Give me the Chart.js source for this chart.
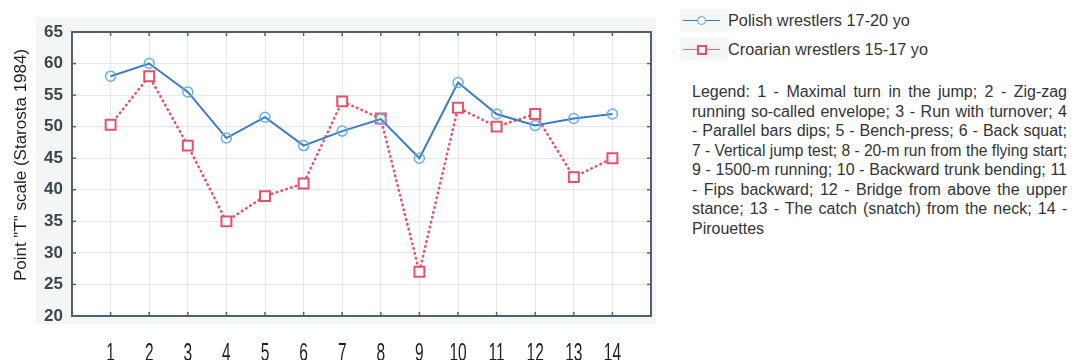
<!DOCTYPE html>
<html>
<head>
<meta charset="utf-8">
<script src="https://cdn.jsdelivr.net/npm/chart.js@4/dist/chart.umd.min.js"></script>
<style>
    body { margin: 0; background: #fff; width: 1075px; height: 360px; position: relative; overflow: hidden; }
    #wrap { position: absolute; left: 0; top: 0; width: 665px; height: 360px; }
    #legend { position: absolute; left: 680px; top: 6px; width: 387px; font-family: "Liberation Sans", Arial, sans-serif; color: #333; }
    .item { height: 29px; display: flex; align-items: center; font-size: 16.3px; }
    .key { position: relative; width: 48px; height: 23px; background: #f5f6f6; }
    .key .ln { position: absolute; left: 3px; right: 8px; top: 11px; height: 0; }
    .key .mk { position: absolute; box-sizing: border-box; }
    #notes { margin-top: 18px; margin-left: 12px; width: 375px; font-size: 16px; line-height: 19.5px; }
    #notes div { white-space: nowrap; text-align: justify; text-align-last: justify; transform-origin: 0 50%; }
    #notes div.last { text-align-last: left; }
</style>
</head>
<body>
<div id="wrap"><canvas id="lineChart"></canvas></div>
<div id="legend">
    <div class="item"><span class="key"><span class="ln" style="border-top:1.5px solid #3b7bbf"></span><span class="mk" style="left:17px;top:7px;width:9px;height:9px;border:1.5px solid #5a9fdc;border-radius:50%;background:#fff"></span></span><span id="lab0"></span></div>
    <div class="item"><span class="key"><span class="ln" style="border-top:1.5px solid #ee6b80"></span><span class="mk" style="left:17px;top:7px;width:10px;height:10px;border:2px solid #e8506a;background:#fff"></span></span><span id="lab1"></span></div>
    <div id="notes"></div>
</div>
<script>
const tests = [1, 2, 3, 4, 5, 6, 7, 8, 9, 10, 11, 12, 13, 14];
const polish = [58, 60, 55.5, 48.2, 51.5, 47, 49.3, 51.2, 45, 57, 52, 50.2, 51.3, 52];
const croatian = [50.3, 58, 47, 35, 39, 41, 54, 51.3, 27, 53, 50, 52, 42, 45];
const seriesNames = ["Polish wrestlers 17-20 yo", "Croarian wrestlers 15-17 yo"];
const yTicks = [20, 25, 30, 35, 40, 45, 50, 55, 60, 65];
const yTitle = 'Point "T" scale (Starosta 1984)';
const noteLines = [
    "Legend: 1 - Maximal turn in the jump; 2 - Zig-zag",
    "running so-called envelope; 3 - Run with turnover; 4",
    "- Parallel bars dips; 5 - Bench-press; 6 - Back squat;",
    "7 - Vertical jump test; 8 - 20-m run from the flying start;",
    "9 - 1500-m running; 10 - Backward trunk bending; 11",
    "- Fips backward; 12 - Bridge from above the upper",
    "stance; 13 - The catch (snatch) from the neck; 14 -",
    "Pirouettes",
];

document.getElementById("lab0").textContent = seriesNames[0];
document.getElementById("lab1").textContent = seriesNames[1];

// notes paragraph, one div per line so the breaks match; squeeze lines that are too wide
const notes = document.getElementById("notes");
noteLines.forEach((t, i) => {
    const d = document.createElement("div");
    d.textContent = t;
    if (i === noteLines.length - 1) d.className = "last";
    notes.appendChild(d);
    const r = document.createRange();
    r.selectNodeContents(d);
    const w = r.getBoundingClientRect().width;
    if (w > 375) {
        d.style.width = w + "px";
        d.style.transform = "scaleX(" + (375 / w) + ")";
    }
});

const sans = '"Liberation Sans", Arial, sans-serif';

// light panel behind the plot, frame, inner ticks, and the narrow axis texts
const framePlugin = {
    id: "frame",
    beforeDraw(chart) {
        const c = chart.ctx;
        const a = chart.chartArea;
        c.save();
        c.fillStyle = "#f4f6f6";
        c.fillRect(36, 17, 620, 307);
        c.fillStyle = "#fff";
        c.fillRect(a.left, a.top, a.right - a.left, a.bottom - a.top);
        c.restore();
    },
    afterDatasetsDraw(chart) {
        const c = chart.ctx;
        const a = chart.chartArea;
        const xs = chart.scales.x, ys = chart.scales.y;
        c.save();
        c.strokeStyle = "#4f6070";
        c.lineWidth = 2;
        c.strokeRect(a.left, a.top, a.right - a.left, a.bottom - a.top);
        c.lineWidth = 1.5;
        tests.forEach(t => {
            const px = xs.getPixelForValue(t);
            c.beginPath(); c.moveTo(px, a.top); c.lineTo(px, a.top + 4); c.stroke();
            c.beginPath(); c.moveTo(px, a.bottom); c.lineTo(px, a.bottom - 4); c.stroke();
        });
        yTicks.forEach(v => {
            const py = ys.getPixelForValue(v);
            c.beginPath(); c.moveTo(a.right, py); c.lineTo(a.right - 4, py); c.stroke();
            c.beginPath(); c.moveTo(a.left, py); c.lineTo(a.left + 4, py); c.stroke();
        });
        // x tick labels: tall condensed digits
        c.fillStyle = "#1e1e1e";
        c.font = "25px " + sans;
        c.textAlign = "center";
        c.textBaseline = "alphabetic";
        tests.forEach(t => {
            const px = xs.getPixelForValue(t);
            c.save();
            c.translate(px, 361);
            c.scale(0.62, 1);
            c.fillText(String(t), 0, 0);
            c.restore();
        });
        // y axis title
        c.save();
        c.translate(26, 165);
        c.rotate(-Math.PI / 2);
        c.font = "17px " + sans;
        c.fillStyle = "#1e1e1e";
        c.textAlign = "center";
        c.textBaseline = "alphabetic";
        c.fillText(yTitle, 0, 0);
        c.restore();
        c.restore();
    }
};

const ctx = document.getElementById("lineChart");
new Chart(ctx, {
    type: "line",
    data: {
        datasets: [
            {
                label: seriesNames[0],
                data: tests.map((t, i) => ({ x: t, y: polish[i] })),
                borderColor: "#3b7bbf",
                borderWidth: 2,
                pointStyle: "circle",
                pointRadius: 5,
                pointBorderColor: "#69aee6",
                pointBackgroundColor: "rgba(255,255,255,0)",
                pointBorderWidth: 1.5,
                tension: 0,
            },
            {
                label: seriesNames[1],
                data: tests.map((t, i) => ({ x: t, y: croatian[i] })),
                borderColor: "#e8506a",
                borderWidth: 2.6,
                borderDash: [0.5, 4.5],
                borderCapStyle: "round",
                pointStyle: "rect",
                pointRadius: 7,
                pointBorderColor: "#e8506a",
                pointBackgroundColor: "#fff",
                pointBorderWidth: 2,
                tension: 0,
            },
        ],
    },
    plugins: [framePlugin],
    options: {
        responsive: true,
        maintainAspectRatio: false,
        animation: false,
        layout: { padding: { top: 32, right: 14, left: 0, bottom: 0 } },
        scales: {
            x: {
                type: "linear",
                min: 0,
                max: 15,
                afterBuildTicks: (s) => { s.ticks = tests.map(v => ({ value: v })); },
                afterFit: (s) => { s.height = 44; },
                ticks: { display: false },
                grid: { color: "#e6e8ea", lineWidth: 1, tickLength: 0, borderDash: [1, 3] },
                border: { display: false },
            },
            y: {
                min: 20,
                max: 65,
                afterBuildTicks: (s) => { s.ticks = yTicks.map(v => ({ value: v })); },
                afterFit: (s) => { s.width = 72; },
                ticks: {
                    padding: 9,
                    color: "#3b454d",
                    font: { family: sans, size: 17, weight: "bold" },
                },
                grid: { color: "#e6e8ea", lineWidth: 1, tickLength: 0, borderDash: [1, 3] },
                border: { display: false },
            },
        },
        plugins: {
            legend: { display: false },
            tooltip: { enabled: false },
        },
    },
});
</script>
</body>
</html>
